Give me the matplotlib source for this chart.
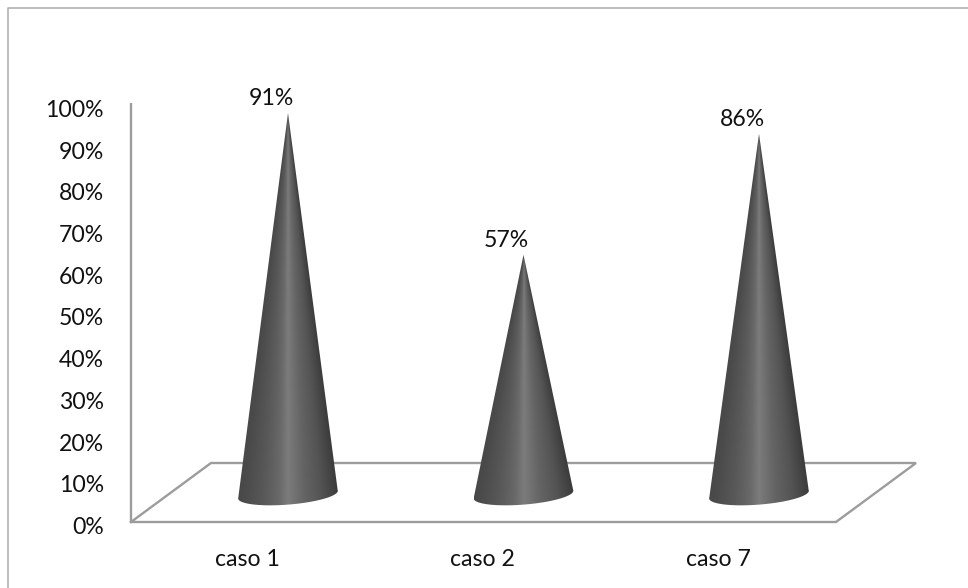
import numpy as np
from matplotlib import pyplot as plt
from matplotlib.patches import PathPatch
from matplotlib.path import Path

plt.rcParams['font.family'] = ['Lato', 'DejaVu Sans']

categories = ['caso 1', 'caso 2', 'caso 7']
values = [91, 57, 86]
tick_values = [0, 10, 20, 30, 40, 50, 60, 70, 80, 90, 100]

W, H = 968, 588
PX_X = 235.5   # pixel por categoria
PX_Y = 4.17    # pixel por 1%
X0, Y0 = 288, 522   # pixel de caso 1 / 0%

# eje a pantalla completa, asi las unidades son las del grafico
fig = plt.figure(figsize=(W / 100, H / 100), dpi=100)
ax = fig.add_axes([0, 0, 1, 1])
xlim = (-X0 / PX_X, (W - X0) / PX_X)
ylim = ((Y0 - H) / PX_Y, Y0 / PX_Y)
ax.axis('off')

dx = 1 / PX_X
dy = 1 / PX_Y
grey = '#9c9c9c'
text_color = '#111111'
font_size = 16.6

# marco exterior, abierto por abajo y a la derecha
frame_x = xlim[0] + 8 * dx
frame_y = ylim[1] - 8 * dy
ax.plot([frame_x, frame_x, xlim[1]], [ylim[0], frame_y, frame_y], color='#ababab', lw=1.1)

# suelo y eje vertical
x_left = -(X0 - 131) * dx
x_right = x_left + 705 * dx
skew_x = 80 * dx
skew_y = 59 * dy
ax.plot([x_left, x_left], [0, 100.5], color=grey, lw=1.7, solid_capstyle='butt')
ax.plot([x_left, x_right, x_right + skew_x, x_left + skew_x, x_left],
        [0, 0, skew_y, skew_y, 0], color=grey, lw=1.7, solid_joinstyle='miter')
for v in tick_values:
    ax.text(x_left - 27 * dx, v - 1.3, '%d%%' % v, ha='right', va='center',
            fontsize=font_size, color=text_color)

# degradado de los conos: sigue el ancho del cono en cada altura
shade_pos = np.linspace(-1, 1, 13)
shade = np.array([72, 76, 82, 88, 96, 106, 124, 112, 100, 92, 84, 72, 60]) / 255

base_y = skew_y / 2 - 0.5
half_w = 50 * dx
tilt = np.deg2rad(4.6)
t = np.linspace(-np.pi - 0.08, 0.08, 80)
for i, (name, v) in enumerate(zip(categories, values)):
    # arco inferior de la base, inclinado
    ex = 50 * np.cos(t)
    ey = 10 * np.sin(t)
    px = (ex * np.cos(tilt) - ey * np.sin(tilt)) * dx + i
    py = (ex * np.sin(tilt) + ey * np.cos(tilt)) * dy + base_y
    top = v + skew_y / 2
    verts = [(i, top)] + list(zip(px, py)) + [(i, top)]
    codes = [Path.MOVETO] + [Path.LINETO] * len(px) + [Path.CLOSEPOLY]
    clip = PathPatch(Path(verts, codes), transform=ax.transData, fc='none', ec='none')
    ax.add_patch(clip)

    bottom = base_y - 12 * dy
    xs = np.linspace(-half_w, half_w, 200)
    ys = np.linspace(bottom, top, 300)
    gx, gy = np.meshgrid(xs, ys)
    width = np.maximum(half_w * (top - gy) / (top - base_y), 1e-4)
    img = np.interp(gx / width, shade_pos, shade)
    im = ax.imshow(img, cmap='gray', vmin=0, vmax=1, aspect='auto', origin='lower',
                   extent=(i - half_w, i + half_w, bottom, top), zorder=3)
    im.set_clip_path(clip)

    ax.text(i - 17 * dx, top + 3.4, '%d%%' % v, ha='center', va='center',
            fontsize=font_size, color=text_color, zorder=4)
    ax.text(i - 41 * dx, -9.0, name, ha='center', va='center',
            fontsize=font_size, color=text_color)

ax.set_xlim(xlim)
ax.set_ylim(ylim)
fig.savefig('out.png', dpi=100, facecolor='white')
